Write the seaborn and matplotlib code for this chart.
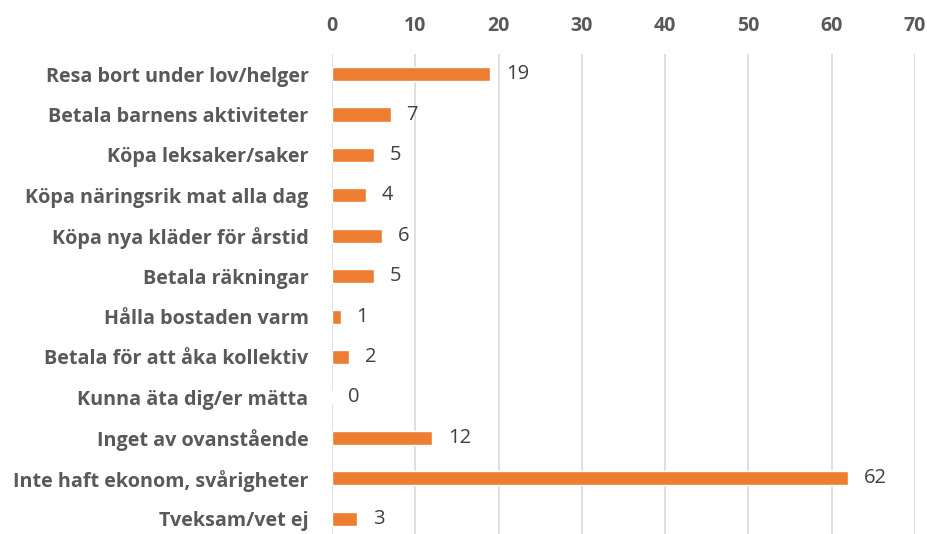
import matplotlib
matplotlib.use('Agg')
import matplotlib.pyplot as plt
import seaborn as sns
import pandas as pd

# Data
kategorier = ['Resa bort under lov/helger', 'Betala barnens aktiviteter', 'Köpa leksaker/saker',
              'Köpa näringsrik mat alla dag', 'Köpa nya kläder för årstid', 'Betala räkningar',
              'Hålla bostaden varm', 'Betala för att åka kollektiv', 'Kunna äta dig/er mätta',
              'Inget av ovanstående', 'Inte haft ekonom, svårigheter', 'Tveksam/vet ej']
varden = [19, 7, 5, 4, 6, 5, 1, 2, 0, 12, 62, 3]
x_ticks = [0, 10, 20, 30, 40, 50, 60, 70]

df = pd.DataFrame({'kategori': kategorier, 'antal': varden})

sns.set_style('white')
plt.rcParams['font.family'] = ['Open Sans', 'DejaVu Sans']

fig = plt.figure(figsize=(9.28, 5.34), dpi=100)
ax = fig.add_axes([0.358, -0.009, 0.628, 0.908])

sns.barplot(data=df, x='antal', y='kategori', color='#ED7D31', width=0.35,
            saturation=1, ax=ax, zorder=3)

ax.set_xlim(0, 70)
ax.set_xticks(x_ticks)
ax.xaxis.tick_top()
ax.tick_params(axis='x', length=0, pad=13, labelsize=14, labelcolor='#595959')
for lab in ax.get_xticklabels():
    lab.set_fontweight('bold')
ax.tick_params(axis='y', length=0, pad=17, labelsize=14.2, labelcolor='#595959')
for lab in ax.get_yticklabels():
    lab.set_fontweight('bold')
ax.grid(axis='x', color='#D9D9D9', linewidth=1.2, zorder=0)
ax.set_xlabel('')
ax.set_ylabel('')
for s in ax.spines.values():
    s.set_visible(False)

for i, v in enumerate(varden):
    ax.text(v + 1.9, i, str(v), va='center', ha='left', fontsize=14.5, color='#404040')

fig.savefig('out.png', dpi=100)
